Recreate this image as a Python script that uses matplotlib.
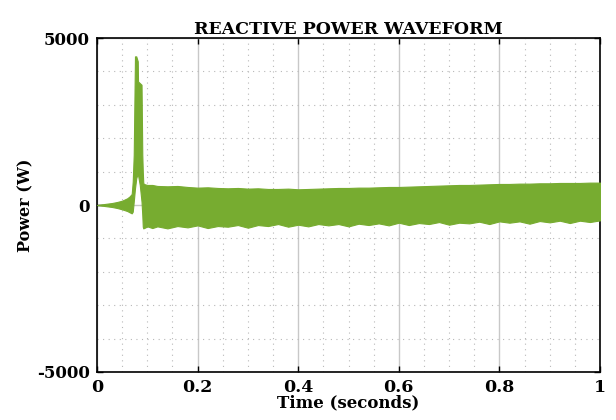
import matplotlib
matplotlib.use("Agg")
import matplotlib.pyplot as plt
from matplotlib.ticker import MultipleLocator

# Envelope of the reactive power waveform (W)
t_env = [0.000, 0.010, 0.020, 0.030, 0.040, 0.050, 0.060, 0.065, 0.069, 0.071,
         0.073, 0.0755, 0.078, 0.081, 0.0815, 0.085, 0.0885, 0.090, 0.091, 0.092,
         0.095, 0.100, 0.110, 0.120, 0.140, 0.160, 0.180, 0.200, 0.220, 0.240,
         0.260, 0.280, 0.300, 0.320, 0.340, 0.360, 0.380, 0.400, 0.420, 0.440,
         0.460, 0.480, 0.500, 0.520, 0.540, 0.560, 0.580, 0.600, 0.620, 0.640,
         0.660, 0.680, 0.700, 0.720, 0.740, 0.760, 0.780, 0.800, 0.820, 0.840,
         0.860, 0.880, 0.900, 0.920, 0.940, 0.960, 0.980, 1.000]
upper = [0, 20, 40, 60, 90, 130, 200, 260, 330, 700,
         1500, 4450, 4450, 4300, 3700, 3650, 3600, 1500, 1000, 650,
         620, 600, 600, 570, 560, 570, 540, 520, 530, 510,
         500, 510, 490, 500, 480, 480, 490, 470, 480, 490,
         500, 510, 510, 520, 520, 530, 540, 540, 550, 560,
         570, 580, 590, 600, 600, 610, 620, 630, 630, 640,
         640, 650, 650, 660, 660, 660, 670, 670]
lower = [0, -20, -40, -60, -90, -130, -180, -220, -250, -200,
         100, 500, 800, 950, 900, 600, 100, -300, -650, -700,
         -680, -640, -690, -640, -700, -630, -670, -610, -690, -630,
         -650, -600, -680, -600, -630, -570, -650, -590, -640, -570,
         -610, -570, -640, -560, -600, -550, -610, -530, -600, -540,
         -570, -510, -590, -530, -550, -500, -570, -490, -530, -490,
         -560, -480, -520, -470, -540, -470, -510, -460]

x_ticks = [0, 0.2, 0.4, 0.6, 0.8, 1]
x_labels = ["0", "0.2", "0.4", "0.6", "0.8", "1"]
y_ticks = [-5000, 0, 5000]
y_labels = ["-5000", "0", "5000"]

green = "#77AC30"
font = {"family": "DejaVu Serif", "weight": "bold"}

fig = plt.figure(figsize=(6.16, 4.2), dpi=100)
ax = fig.add_axes([0.1575, 0.1143, 0.8165, 0.7952])

ax.fill_between(t_env, lower, upper, color=green, linewidth=0.8, edgecolor=green, zorder=3)

ax.set_xlim(0, 1)
ax.set_ylim(-5000, 5000)
ax.set_xticks(x_ticks)
ax.set_xticklabels(x_labels, **font, fontsize=12.5)
ax.set_yticks(y_ticks)
ax.set_yticklabels(y_labels, **font, fontsize=12)
ax.xaxis.set_minor_locator(MultipleLocator(0.05))
ax.yaxis.set_minor_locator(MultipleLocator(1000))

ax.grid(which="major", color="#c8c8c8", linewidth=1.0, linestyle="-", zorder=1)
ax.grid(which="minor", color="#b8b8b8", linewidth=0.8, linestyle=(0, (1, 4)), zorder=1)
ax.set_axisbelow(True)

ax.tick_params(which="major", direction="in", length=4, width=1, top=True, right=True)
ax.tick_params(axis="x", which="major", pad=5)
ax.tick_params(axis="y", which="major", pad=5)
ax.tick_params(which="minor", length=0)
for s in ax.spines.values():
    s.set_linewidth(1.2)
    s.set_color("black")

ax.set_title("REACTIVE POWER WAVEFORM", **font, fontsize=12.5, pad=3)
ax.set_xlabel("Time (seconds)", **font, fontsize=12, labelpad=-1)
ax.set_ylabel("Power (W)", **font, fontsize=11.5, labelpad=2)

fig.savefig("out.png", dpi=100)
